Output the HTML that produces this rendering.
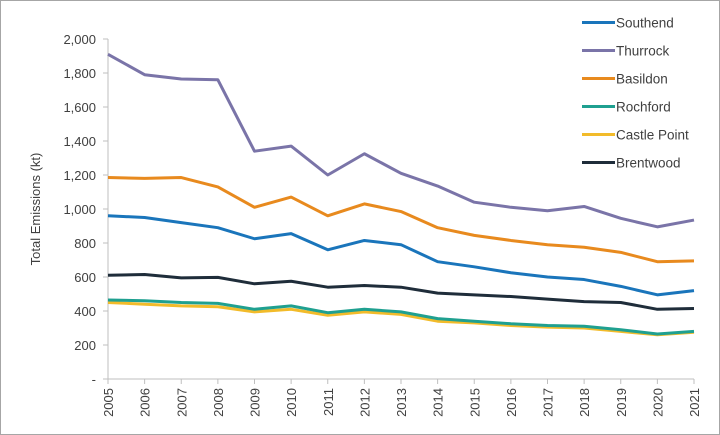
<!DOCTYPE html>
<html><head><meta charset="utf-8"><style>
html,body{margin:0;padding:0;background:#fff}
svg{display:block;font-family:"Liberation Sans",Arial,sans-serif}
</style></head><body>
<svg width="720" height="435" viewBox="0 0 720 435" xmlns="http://www.w3.org/2000/svg">
<rect x="0.5" y="0.5" width="719" height="434" fill="#fff" stroke="#a6a6a6"/>
<g id="axes" stroke="#bfbfbf" stroke-width="1">
<line x1="108" y1="39" x2="108" y2="379"/>
<line x1="108" y1="379" x2="694" y2="379"/>
</g>
<g id="c"></g>
<text transform="translate(40,209) rotate(-90)" font-size="13" text-anchor="middle" fill="#404040">Total Emissions (kt)</text>
<g font-size="13" fill="#404040">
<text x="582" y="27">&#8203;</text>
</g>
<script>
var svg=document.querySelector('svg'),NS='http://www.w3.org/2000/svg';
function el(t,a,p){var e=document.createElementNS(NS,t);for(var k in a)e.setAttribute(k,a[k]);(p||svg).appendChild(e);return e;}
function X(i){return 108+i*36.625;}function Y(v){return 379-v*0.17;}
for(var v=0;v<=2000;v+=200){var y=Y(v);el('line',{x1:103,y1:y,x2:108,y2:y,stroke:'#bfbfbf'});
var t=el('text',{x:96,y:y+5,'font-size':13,'text-anchor':'end',fill:'#404040'});t.textContent=v==0?'-':v.toLocaleString('en-US');}
for(var i=0;i<17;i++){var x=X(i);el('line',{x1:x,y1:379,x2:x,y2:384,stroke:'#bfbfbf'});
var t=el('text',{transform:'translate('+(x+5)+',388) rotate(-90)','font-size':13,'text-anchor':'end',fill:'#404040'});t.textContent=2005+i;}
var S=[
['Castle Point','#f2bb2a',[450,440,430,425,395,410,375,395,380,340,330,315,305,300,280,260,275]],
['Rochford','#1fa090',[465,460,450,445,410,430,390,410,395,355,340,325,315,310,290,265,280]],
['Brentwood','#1f2d3a',[610,615,595,598,560,575,540,550,540,505,495,485,470,455,450,410,415]],
['Southend','#1a75bb',[960,950,920,890,825,855,760,815,790,690,660,625,600,585,545,495,520]],
['Basildon','#e88a1e',[1185,1180,1185,1130,1010,1070,960,1030,985,890,845,815,790,775,745,690,695]],
['Thurrock','#7a74a8',[1910,1790,1765,1760,1340,1370,1200,1325,1210,1135,1040,1010,990,1015,945,895,935]]];
S.forEach(function(s){el('polyline',{points:s[2].map(function(v,i){return X(i)+','+Y(v)}).join(' '),fill:'none',stroke:s[1],'stroke-width':3,'stroke-linejoin':'round'});});
var L=[['Southend','#1a75bb'],['Thurrock','#7a74a8'],['Basildon','#e88a1e'],['Rochford','#1fa090'],['Castle Point','#f2bb2a'],['Brentwood','#1f2d3a']];
L.forEach(function(l,i){var y=22.5+i*28;el('line',{x1:582,y1:y,x2:615,y2:y,stroke:l[1],'stroke-width':3});
var t=el('text',{x:616,y:y+5,'font-size':13.5,fill:'#404040'});t.textContent=l[0];});
</script>
</svg>
</body></html>
